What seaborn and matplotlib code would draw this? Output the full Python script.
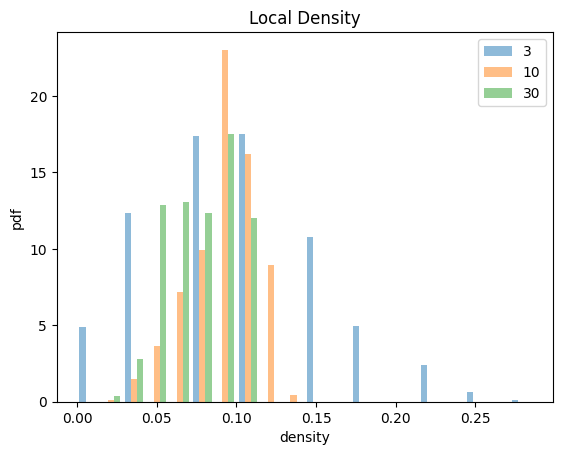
import numpy as np
import pandas as pd
import matplotlib
matplotlib.use("Agg")
import matplotlib.pyplot as plt
import seaborn as sns

# pdf height per bin (20 equal bins)
k_levels = ["3", "10", "30"]
pdf_k3 = [4.88, 0, 12.34, 0, 0, 17.39, 0, 17.52, 0, 0,
          10.74, 0, 4.98, 0, 0, 2.42, 0, 0.65, 0, 0.10]
pdf_k10 = [0, 0.10, 1.47, 3.63, 7.17, 9.92, 23.02, 16.21, 8.94, 0.43,
           0, 0, 0, 0, 0, 0, 0, 0, 0, 0]
pdf_k30 = [0, 0.36, 2.78, 12.87, 13.06, 12.34, 17.52, 12.02, 0, 0,
           0, 0, 0, 0, 0, 0, 0, 0, 0, 0]
density_max = 0.286
n_bins = 20

edges = np.linspace(0, density_max, n_bins + 1)
centers = (edges[:-1] + edges[1:]) / 2
width = edges[1] - edges[0]

rows = []
for k, vals in zip(k_levels, [pdf_k3, pdf_k10, pdf_k30]):
    for c, v in zip(centers, vals):
        rows.append({"density": c, "pdf": v, "k": k})
df = pd.DataFrame(rows)

fig, ax = plt.subplots(figsize=(6.4, 4.8), dpi=100)
sns.histplot(data=df, x="density", weights="pdf", hue="k", hue_order=k_levels,
             bins=edges.tolist(), stat="count", multiple="dodge", shrink=0.8,
             alpha=0.5, linewidth=0, palette=["#1f77b4", "#ff7f0e", "#2ca02c"],
             ax=ax)

# make the bars in each bin touch, like plt.hist does
bar_w = 0.8 * width / 3
for p in ax.patches:
    left = p.get_x()
    b = int(np.floor((left + 1e-9) / width))
    i = int(round((left - edges[b] - 0.1 * width / 3) / (width / 3)))
    p.set_x(edges[b] + 0.1 * width + i * bar_w)
    p.set_width(bar_w)
ax.relim()
ax.autoscale_view()

sns.move_legend(ax, "upper right", title=None)
ax.set_title("Local Density")
ax.set_xlabel("density")
ax.set_ylabel("pdf")

plt.savefig("out.png", dpi=100, bbox_inches="tight")
plt.close()
